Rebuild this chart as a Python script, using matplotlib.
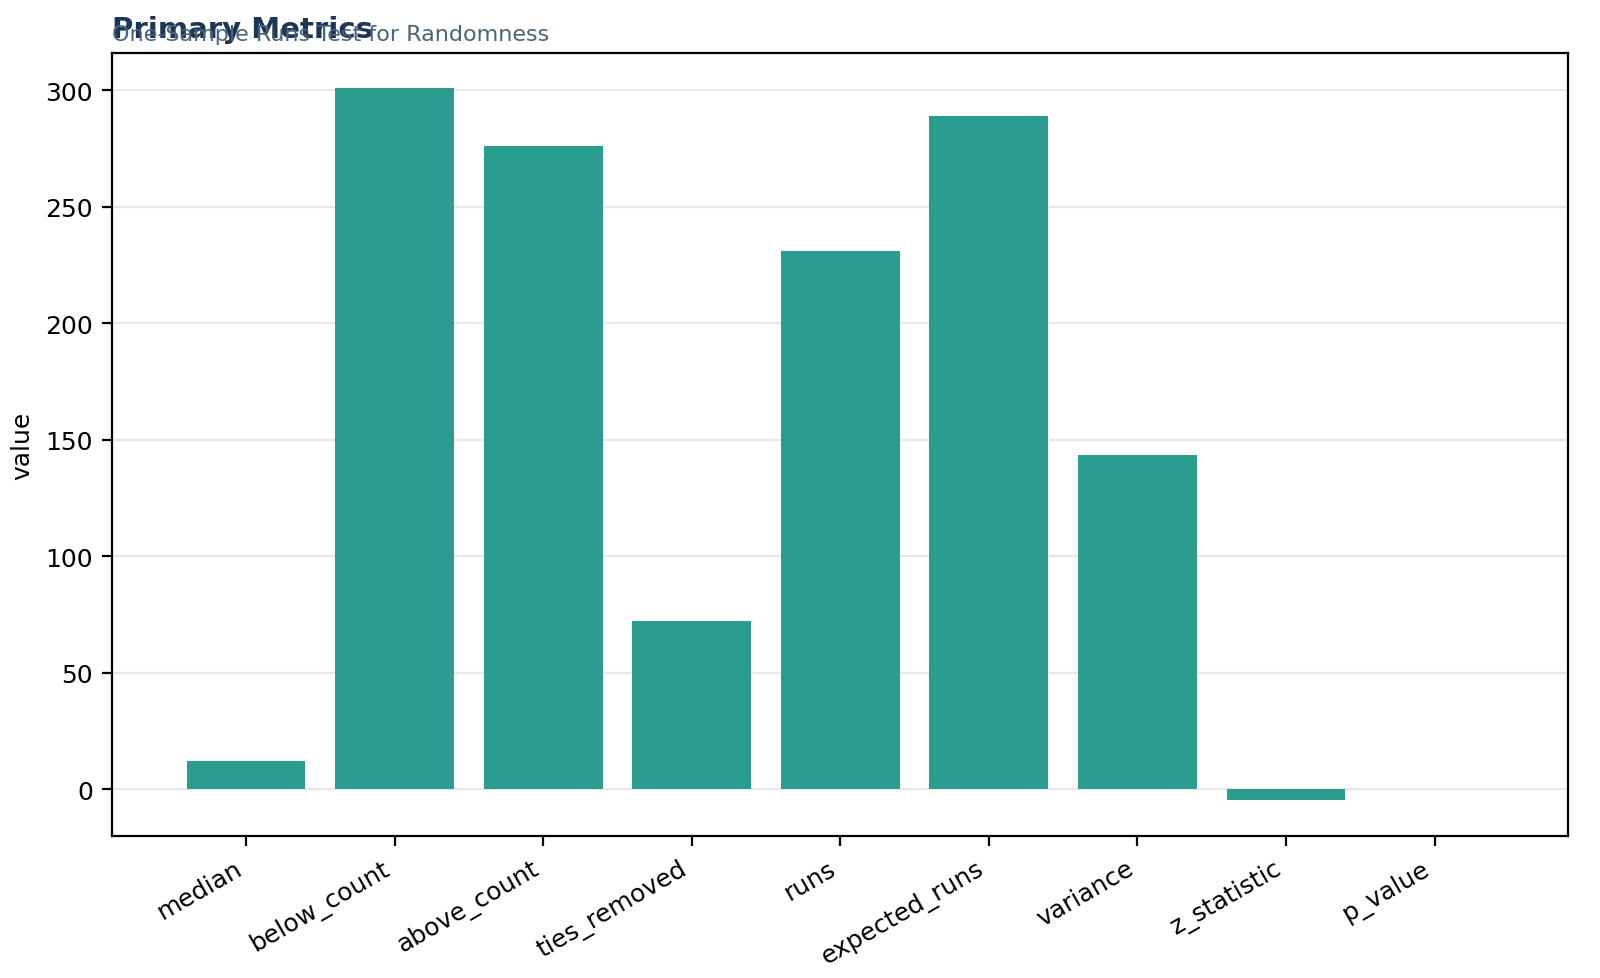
import numpy as np
import matplotlib
matplotlib.use("Agg")
import matplotlib.pyplot as plt

# values
labels = ["median", "below_count", "above_count", "ties_removed", "runs",
          "expected_runs", "variance", "z_statistic", "p_value"]
values = [12, 301, 276, 72, 231, 289, 143.4, -4.8, 0.0]

W, H = 1568, 959  # reference coords as measured
fig = plt.figure(figsize=(8, 4.895), dpi=200)
ax = fig.add_axes([110 / W, 1 - 820 / H, 1427 / W, 767 / H])

x = np.arange(len(labels))
ax.bar(x, values, width=0.8, color="#2a9d8f", zorder=2)
ax.set_xticks(x)
ax.set_xticklabels(labels, rotation=30, ha="right", fontsize=9)
ax.tick_params(axis="y", labelsize=9)
ax.set_ylabel("value", fontsize=9)
ax.set_ylim(-20.2, 316)
ax.set_xlim(-0.9, len(labels) - 0.1)
ax.grid(axis="y", color="#e8e8e8", linewidth=0.8, zorder=0)
ax.set_axisbelow(True)

fig.text(110 / W, 1 - 29 / H, "Primary Metrics", fontsize=10.5, fontweight="bold",
         color="#1d3557", va="center", ha="left")
fig.text(110 / W, 1 - 34 / H, "One-Sample Runs Test for Randomness", fontsize=8,
         color="#4a6378", va="center", ha="left")

fig.savefig("out.png", dpi=200)
